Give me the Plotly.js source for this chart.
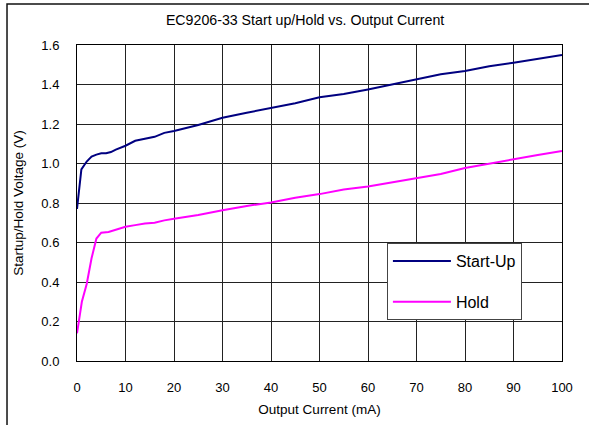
<!DOCTYPE html>
<html>
<head>
<meta charset="utf-8">
<script src="https://cdn.plot.ly/plotly-3.0.1.min.js"></script>
<style>html,body{margin:0;padding:0;background:#fff;}#chart{width:589px;height:425px;}</style>
</head>
<body>
<div id="chart"></div>
<script>
const chartTitle = "EC9206-33 Start up/Hold vs. Output Current";
const xTitle = "Output Current (mA)";
const yTitle = "Startup/Hold Voltage (V)";
const seriesNames = ["Start-Up", "Hold"];

const startUpX = [0, 0.9, 2, 3, 4, 5, 6, 7, 8, 10, 12, 14, 16, 18, 20, 25, 30, 35, 40, 45, 50, 55, 60, 65, 70, 75, 80, 85, 90, 95, 100];
const startUpY = [0.77, 0.97, 1.01, 1.035, 1.045, 1.052, 1.052, 1.058, 1.07, 1.09, 1.115, 1.125, 1.135, 1.155, 1.165, 1.195, 1.232, 1.257, 1.28, 1.305, 1.335, 1.352, 1.375, 1.40, 1.425, 1.452, 1.468, 1.492, 1.51, 1.528, 1.549];

const holdX = [0, 1, 2, 3, 4, 5, 6.5, 8, 10, 12, 14, 16, 18, 20, 25, 30, 35, 40, 45, 50, 55, 60, 65, 70, 75, 80, 85, 90, 95, 100];
const holdY = [0.14, 0.30, 0.39, 0.52, 0.62, 0.65, 0.653, 0.665, 0.68, 0.688, 0.696, 0.70, 0.712, 0.72, 0.739, 0.763, 0.785, 0.803, 0.827, 0.845, 0.868, 0.883, 0.905, 0.925, 0.947, 0.977, 1.0, 1.02, 1.043, 1.063];

const FONT = "Liberation Sans, Arial, sans-serif";

const traces = [
  {x: startUpX, y: startUpY, name: seriesNames[0], legendgroup: "a", mode: "lines",
   line: {color: "#000080", width: 2}},
  {x: holdX, y: holdY, name: seriesNames[1], legendgroup: "b", mode: "lines",
   line: {color: "#FF00FF", width: 2}}
];

const layout = {
  width: 589, height: 425,
  margin: {l: 77, r: 27, t: 45, b: 64, pad: 0},
  paper_bgcolor: "#fff", plot_bgcolor: "#fff",
  font: {family: FONT, color: "#000", size: 13},
  title: {text: chartTitle, font: {family: FONT, size: 14.2, color: "#000"}, x: 0.518, xanchor: "center", y: 0.953, yanchor: "middle"},
  xaxis: {
    range: [0, 100], dtick: 10, tick0: 0, showgrid: true, gridcolor: "#222", gridwidth: 1,
    zeroline: false, showline: true, linecolor: "#000", linewidth: 1, mirror: true,
    ticks: "", ticklabelstandoff: 14, tickfont: {family: FONT, size: 13},
    title: {text: xTitle, font: {family: FONT, size: 13.5}, standoff: 10}
  },
  yaxis: {
    range: [0, 1.6], dtick: 0.2, tick0: 0, tickformat: ".1f", showgrid: true, gridcolor: "#222", gridwidth: 1,
    zeroline: false, showline: true, linecolor: "#000", linewidth: 1, mirror: true,
    ticks: "", ticklabelstandoff: 14, tickfont: {family: FONT, size: 13},
    title: {text: yTitle, font: {family: FONT, size: 13.5}, standoff: 14}
  },
  showlegend: true,
  legend: {
    x: 0.639, y: 0.3734, xanchor: "left", yanchor: "top",
    bgcolor: "#fff", bordercolor: "#444", borderwidth: 1,
    font: {family: FONT, size: 16, color: "#000"},
    tracegroupgap: 17, itemwidth: 58
  },
  shapes: [
    {type: "rect", xref: "paper", yref: "paper", x0: -0.1443, x1: 1.2, y0: -0.4, y1: 1.1297,
     line: {color: "#111", width: 1.5}, fillcolor: "rgba(0,0,0,0)", layer: "below"}
  ]
};

Plotly.newPlot("chart", traces, layout, {displayModeBar: false, staticPlot: true});
</script>
</body>
</html>
